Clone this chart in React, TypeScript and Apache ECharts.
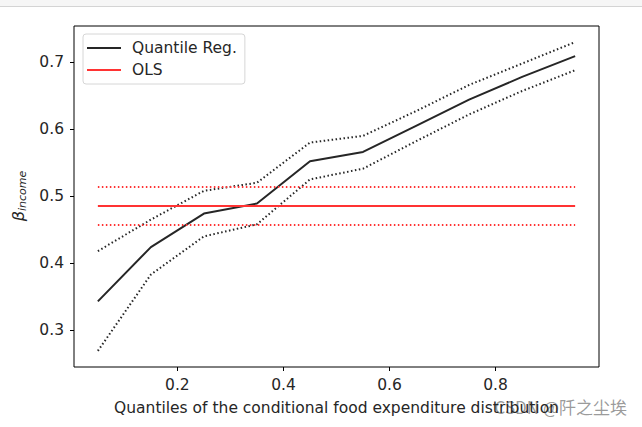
import React, { useEffect, useRef } from "react";
import * as echarts from "echarts";

const quantiles = [0.05, 0.15, 0.25, 0.35, 0.45, 0.55, 0.65, 0.75, 0.85, 0.95];
const qrB = [0.343, 0.424, 0.474, 0.489, 0.552, 0.566, 0.605, 0.644, 0.678, 0.709];
const qrLB = [0.269, 0.383, 0.44, 0.458, 0.525, 0.541, 0.582, 0.622, 0.657, 0.688];
const qrUB = [0.418, 0.465, 0.508, 0.52, 0.58, 0.59, 0.627, 0.666, 0.698, 0.73];
const olsB = 0.4852;
const olsLB = 0.4569;
const olsUB = 0.5135;
const xTicks = [0.2, 0.4, 0.6, 0.8];
const yTicks = [0.3, 0.4, 0.5, 0.6, 0.7];

const FONT = "DejaVu Sans";
const FS = 15.5;
const BLACK = "#262626";
const RED = "#ff3333";

export default function App() {
  const ref = useRef<HTMLDivElement>(null);
  useEffect(() => {
    document.body.style.margin = "0";
    if (!ref.current) return;
    const chart = echarts.init(ref.current, null, { renderer: "svg" });
    const pair = (ys: number[]) => quantiles.map((q, i) => [q, ys[i]]);
    const flat = (v: number) => quantiles.map((q) => [q, v]);
    const dotted = [1.5, 2.5];
    chart.setOption({
      animation: false,
      backgroundColor: "#fff",
      grid: {
        left: 74,
        right: 43,
        top: 26,
        bottom: 60,
        show: true,
        borderColor: "#000",
        borderWidth: 1,
        backgroundColor: "transparent",
      },
      legend: {
        left: 83,
        top: 34,
        orient: "vertical",
        data: ["Quantile Reg.", "OLS"],
        icon: "rect",
        itemWidth: 34,
        itemHeight: 2,
        itemGap: 6,
        padding: [6, 8, 6, 4],
        borderColor: "#d6d6d6",
        borderWidth: 1,
        borderRadius: 3,
        backgroundColor: "rgba(255,255,255,0.8)",
        textStyle: { fontFamily: FONT, fontSize: FS, color: "#262626", padding: [0, 0, 0, 6] },
      },
      xAxis: {
        type: "value",
        min: 0.005,
        max: 0.995,
        splitLine: { show: false },
        axisLine: { show: false },
        axisTick: { show: true, length: 4, lineStyle: { color: "#000" }, customValues: xTicks },
        axisLabel: {
          fontFamily: FONT,
          fontSize: FS,
          color: "#262626",
          margin: 10,
          customValues: xTicks,
          formatter: (v: number) => v.toFixed(1),
        },
        name: "Quantiles of the conditional food expenditure distribution",
        nameLocation: "middle",
        nameGap: 33,
        nameTextStyle: { fontFamily: FONT, fontSize: FS, color: "#262626" },
      },
      yAxis: {
        type: "value",
        min: 0.245,
        max: 0.754,
        splitLine: { show: false },
        axisLine: { show: false },
        axisTick: { show: true, length: 4, lineStyle: { color: "#000" }, customValues: yTicks },
        axisLabel: {
          fontFamily: FONT,
          fontSize: FS,
          color: "#262626",
          margin: 10,
          customValues: yTicks,
          formatter: (v: number) => v.toFixed(1),
        },
      },
      series: [
        {
          name: "Quantile Reg.",
          type: "line",
          data: pair(qrB),
          showSymbol: false,
          lineStyle: { color: BLACK, width: 2 },
          itemStyle: { color: BLACK },
        },
        {
          name: "qlb",
          type: "line",
          data: pair(qrLB),
          showSymbol: false,
          lineStyle: { color: BLACK, width: 2, type: dotted },
        },
        {
          name: "qub",
          type: "line",
          data: pair(qrUB),
          showSymbol: false,
          lineStyle: { color: BLACK, width: 2, type: dotted },
        },
        {
          name: "OLS",
          type: "line",
          data: flat(olsB),
          showSymbol: false,
          lineStyle: { color: RED, width: 2 },
          itemStyle: { color: RED },
        },
        {
          name: "olb",
          type: "line",
          data: flat(olsLB),
          showSymbol: false,
          lineStyle: { color: RED, width: 2, type: dotted },
        },
        {
          name: "oub",
          type: "line",
          data: flat(olsUB),
          showSymbol: false,
          lineStyle: { color: RED, width: 2, type: dotted },
        },
      ],
      graphic: [
        { type: "rect", shape: { x: 0, y: 0, width: 642, height: 6 }, style: { fill: "#f6f6f6" }, silent: true },
        { type: "line", shape: { x1: 0, y1: 6.5, x2: 642, y2: 6.5 }, style: { stroke: "#d4d4d4", lineWidth: 1 }, silent: true },
        {
          type: "group",
          x: 18,
          y: 198,
          rotation: Math.PI / 2,
          children: [
            {
              type: "text",
              x: -13,
              y: 0,
              style: {
                text: "β",
                fontFamily: FONT,
                fontStyle: "italic",
                fontSize: 16,
                fill: "#262626",
                align: "right",
                verticalAlign: "middle",
              },
            },
            {
              type: "text",
              x: -13,
              y: 4,
              style: {
                text: "income",
                fontFamily: FONT,
                fontStyle: "italic",
                fontSize: 11,
                fill: "#262626",
                align: "left",
                verticalAlign: "middle",
              },
            },
          ],
        },
        {
          type: "text",
          right: 15,
          top: 398,
          style: {
            text: "CSDN @阡之尘埃",
            fontFamily: "Noto Sans CJK SC",
            fontSize: 17,
            fill: "rgba(110,110,110,0.7)",
          },
          silent: true,
        },
      ],
    });
    return () => chart.dispose();
  }, []);
  return <div ref={ref} style={{ width: 642, height: 427 }} />;
}
